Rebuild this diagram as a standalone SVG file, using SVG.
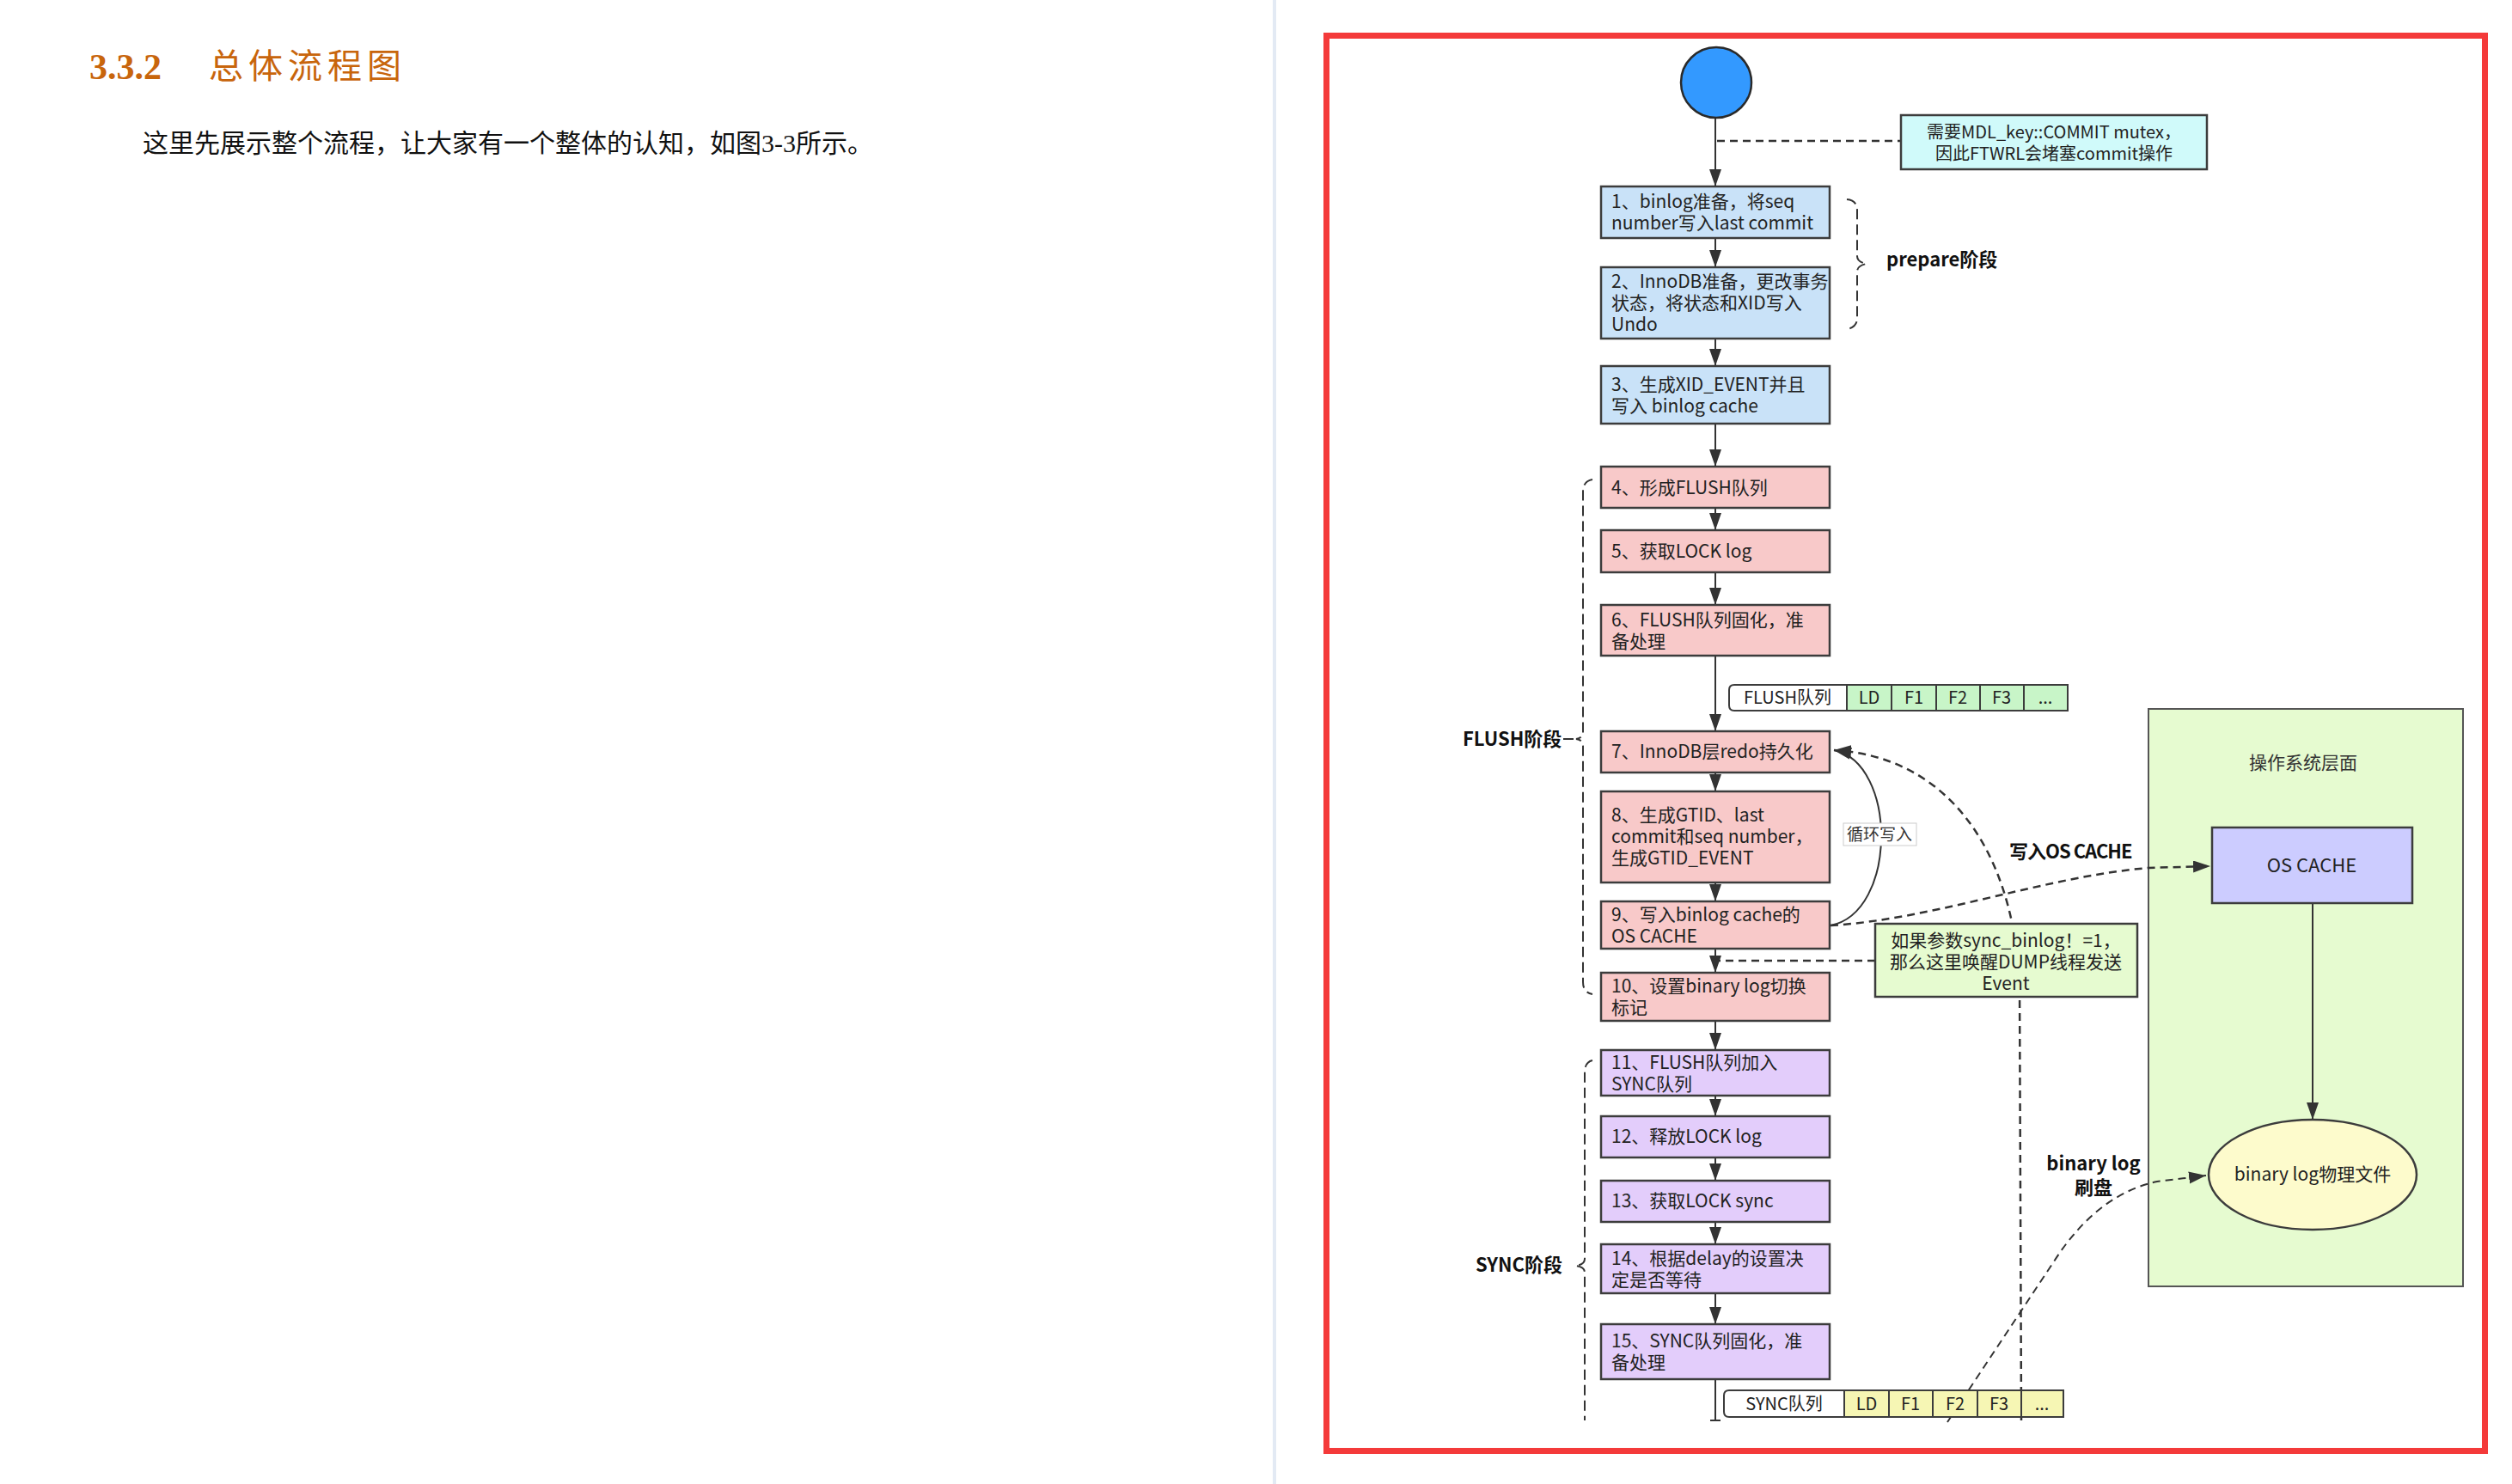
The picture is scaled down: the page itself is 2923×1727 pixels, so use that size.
<svg xmlns="http://www.w3.org/2000/svg" width="2923" height="1727" viewBox="0 0 2923 1727">
<style>
text{font-family:"Noto Sans CJK SC",sans-serif;fill:#222;}
.t{font-size:21px;}
.c{text-anchor:middle;}
.b{font-weight:bold;font-size:22px;fill:#111;}
.box{stroke:#3c3c3c;stroke-width:2.5;}
.blue{fill:#c9e2f8;}
.pink{fill:#f8c9c9;}
.purple{fill:#e3cdfb;}
.flow{stroke:#333;stroke-width:2;fill:none;marker-end:url(#ah);}
.dash{stroke:#333;stroke-width:2.5;fill:none;stroke-dasharray:9 6;}
.brace{stroke:#333;stroke-width:2;fill:none;stroke-dasharray:12 6;}
.cell{stroke:#3c3c3c;stroke-width:2;}
.q{font-size:20px;}
</style>
<defs>
<marker id="ah" markerUnits="userSpaceOnUse" markerWidth="22" markerHeight="16" refX="20" refY="7" orient="auto">
<path d="M0,0 L20,7 L0,14 z" fill="#333"/>
</marker>
</defs>
<rect x="0" y="0" width="2923" height="1727" fill="#ffffff"/>
<rect x="1481" y="0" width="4" height="1727" fill="#e3eaf4"/>
<g id="page-text">
<text x="104" y="92" style="font-family:'Liberation Serif',serif;font-weight:bold;font-size:42px;fill:#c8650c;">3.3.2</text>
<text x="243" y="91" style="font-size:40px;fill:#c8650c;letter-spacing:6px;">总体流程图</text>
<text x="166" y="177" style="font-family:'Liberation Serif','Noto Sans CJK SC',serif;font-size:30px;fill:#111;">这里先展示整个流程，让大家有一个整体的认知，如图3-3所示。</text>
</g>
<rect x="1543.5" y="41.5" width="1348" height="1647" fill="none" stroke="#f43a3a" stroke-width="7"/>
<g id="os-panel">
<rect x="2500" y="825" width="366" height="672" fill="#e6fbd0" stroke="#555" stroke-width="2"/>
<text x="2680" y="895" class="t c" style="fill:#333;">操作系统层面</text>
</g>
<g id="connectors">
<line class="flow" x1="1996" y1="137" x2="1996" y2="217"/>
<line class="flow" x1="1996" y1="277" x2="1996" y2="311"/>
<line class="flow" x1="1996" y1="394" x2="1996" y2="426"/>
<line class="flow" x1="1996" y1="493" x2="1996" y2="543"/>
<line class="flow" x1="1996" y1="591" x2="1996" y2="617"/>
<line class="flow" x1="1996" y1="666" x2="1996" y2="704"/>
<line class="flow" x1="1996" y1="763" x2="1996" y2="851"/>
<line class="flow" x1="1996" y1="899" x2="1996" y2="921"/>
<line class="flow" x1="1996" y1="1027" x2="1996" y2="1049"/>
<line class="flow" x1="1996" y1="1104" x2="1996" y2="1132"/>
<line class="flow" x1="1996" y1="1188" x2="1996" y2="1222"/>
<line class="flow" x1="1996" y1="1275" x2="1996" y2="1299"/>
<line class="flow" x1="1996" y1="1347" x2="1996" y2="1374"/>
<line class="flow" x1="1996" y1="1422" x2="1996" y2="1448"/>
<line class="flow" x1="1996" y1="1505" x2="1996" y2="1541"/>
<line x1="1996" y1="1605" x2="1996" y2="1653" stroke="#333" stroke-width="2"/>
<line x1="1990" y1="1653" x2="2002" y2="1653" stroke="#333" stroke-width="2"/>
<line class="dash" x1="1998" y1="164" x2="2212" y2="164"/>
<line class="dash" x1="2182" y1="1118" x2="1998" y2="1118"/>
<path class="flow" d="M2130,1077 C2208,1062 2208,888 2134,873"/>
<path class="dash" marker-end="url(#ah)" d="M2352,1653 L2350,1140 C2340,980 2260,880 2134,873"/>
<path class="dash" marker-end="url(#ah)" d="M2130,1077 C2250,1070 2380,1020 2500,1010 L2572,1008"/>
<path class="dash" style="stroke-width:2;" marker-end="url(#ah)" d="M2266,1655 L2390,1468 Q2440,1390 2510,1375 L2567,1368"/>
<line x1="2691" y1="1051" x2="2691" y2="1303" class="flow"/>
</g>
<g id="braces">
<path class="brace" d="M2149,232 Q2161,233 2161,245 L2161,298 Q2161,305 2172,307 Q2161,309 2161,316 L2161,370 Q2161,381 2149,383"/>
<path class="brace" d="M1853,558 Q1842,560 1842,572 L1842,852 Q1842,859 1834,860 Q1842,861 1842,868 L1842,1143 Q1842,1155 1853,1157"/>
<line x1="1819" y1="860" x2="1831" y2="860" stroke="#333" stroke-width="2"/>
<path class="brace" d="M1853,1234 Q1844,1236 1844,1248 L1844,1465 Q1844,1472 1833,1473 Q1844,1474 1844,1481 L1844,1653"/>
</g>
<g id="labels">
<text x="2195" y="310" class="b">prepare阶段</text>
<text x="1702" y="868" class="b">FLUSH阶段</text>
<text x="1717" y="1480" class="b">SYNC阶段</text>
<text x="2338" y="999" class="b" style="letter-spacing:-1px;">写入OS CACHE</text>
<text x="2436" y="1362" class="b c"><tspan x="2436">binary log</tspan><tspan x="2436" dy="28">刷盘</tspan></text>
</g>
<g id="loop-label">
<rect x="2145" y="958" width="85" height="26" fill="#ffffff" stroke="#cccccc" stroke-width="1"/>
<text x="2187" y="978" class="c" style="font-size:19px;fill:#333;">循环写入</text>
</g>
<g id="start">
<ellipse cx="1997" cy="96" rx="41" ry="41" fill="#3399ff" stroke="#2a2a2a" stroke-width="2.5"/>
</g>
<g id="note-mdl">
<rect x="2212" y="134" width="356" height="63" fill="#d0fafa" stroke="#3c3c3c" stroke-width="2.5"/>
<text x="2390" y="161" class="c" style="font-size:20px;"><tspan x="2390">需要MDL_key::COMMIT mutex，</tspan><tspan x="2390" dy="25">因此FTWRL会堵塞commit操作</tspan></text>
</g>
<g id="step1"><rect class="box blue" x="1863" y="217" width="266" height="60"/>
<text class="t" x="1875" y="242"><tspan x="1875">1、binlog准备，将seq</tspan><tspan x="1875" dy="25">number写入last  commit</tspan></text></g>
<g id="step2"><rect class="box blue" x="1863" y="311" width="266" height="83"/>
<text class="t" x="1875" y="335"><tspan x="1875">2、InnoDB准备，更改事务</tspan><tspan x="1875" dy="25">状态，将状态和XID写入</tspan><tspan x="1875" dy="25">Undo</tspan></text></g>
<g id="step3"><rect class="box blue" x="1863" y="426" width="266" height="67"/>
<text class="t" x="1875" y="455"><tspan x="1875">3、生成XID_EVENT并且</tspan><tspan x="1875" dy="25">写入 binlog cache</tspan></text></g>
<g id="step4"><rect class="box pink" x="1863" y="543" width="266" height="48"/>
<text class="t" x="1875" y="575">4、形成FLUSH队列</text></g>
<g id="step5"><rect class="box pink" x="1863" y="617" width="266" height="49"/>
<text class="t" x="1875" y="649">5、获取LOCK log</text></g>
<g id="step6"><rect class="box pink" x="1863" y="704" width="266" height="59"/>
<text class="t" x="1875" y="729"><tspan x="1875">6、FLUSH队列固化，准</tspan><tspan x="1875" dy="25">备处理</tspan></text></g>
<g id="flush-queue">
<path class="cell" d="M2149,797 L2018,797 Q2012,797 2012,803 L2012,821 Q2012,827 2018,827 L2149,827 Z" fill="#ffffff"/>
<rect class="cell" x="2149" y="797" width="52" height="30" fill="#c8f5c8"/>
<rect class="cell" x="2201" y="797" width="52" height="30" fill="#c8f5c8"/>
<rect class="cell" x="2253" y="797" width="51" height="30" fill="#c8f5c8"/>
<rect class="cell" x="2304" y="797" width="51" height="30" fill="#c8f5c8"/>
<rect class="cell" x="2355" y="797" width="51" height="30" fill="#c8f5c8"/>
<text class="q c" x="2080" y="819">FLUSH队列</text>
<text class="q c" x="2175" y="819">LD</text>
<text class="q c" x="2227" y="819">F1</text>
<text class="q c" x="2278" y="819">F2</text>
<text class="q c" x="2329" y="819">F3</text>
<text class="q c" x="2380" y="819">...</text>
</g>
<g id="step7"><rect class="box pink" x="1863" y="851" width="266" height="48"/>
<text class="t" x="1875" y="882">7、InnoDB层redo持久化</text></g>
<g id="step8"><rect class="box pink" x="1863" y="921" width="266" height="106"/>
<text class="t" x="1875" y="956"><tspan x="1875">8、生成GTID、last</tspan><tspan x="1875" dy="25">commit和seq number，</tspan><tspan x="1875" dy="25">生成GTID_EVENT</tspan></text></g>
<g id="step9"><rect class="box pink" x="1863" y="1049" width="266" height="55"/>
<text class="t" x="1875" y="1072"><tspan x="1875">9、写入binlog cache的</tspan><tspan x="1875" dy="25">OS  CACHE</tspan></text></g>
<g id="step10"><rect class="box pink" x="1863" y="1132" width="266" height="56"/>
<text class="t" x="1875" y="1155"><tspan x="1875">10、设置binary log切换</tspan><tspan x="1875" dy="25">标记</tspan></text></g>
<g id="note-dump">
<rect x="2182" y="1075" width="305" height="85" fill="#e6fbd0" stroke="#3c3c3c" stroke-width="2.5"/>
<text class="t c" x="2334" y="1102"><tspan x="2334">如果参数sync_binlog！=1，</tspan><tspan x="2334" dy="25">那么这里唤醒DUMP线程发送</tspan><tspan x="2334" dy="25">Event</tspan></text>
</g>
<g id="step11"><rect class="box purple" x="1863" y="1222" width="266" height="53"/>
<text class="t" x="1875" y="1244"><tspan x="1875">11、FLUSH队列加入</tspan><tspan x="1875" dy="25">SYNC队列</tspan></text></g>
<g id="step12"><rect class="box purple" x="1863" y="1299" width="266" height="48"/>
<text class="t" x="1875" y="1330">12、释放LOCK log</text></g>
<g id="step13"><rect class="box purple" x="1863" y="1374" width="266" height="48"/>
<text class="t" x="1875" y="1405">13、获取LOCK sync</text></g>
<g id="step14"><rect class="box purple" x="1863" y="1448" width="266" height="57"/>
<text class="t" x="1875" y="1472"><tspan x="1875">14、根据delay的设置决</tspan><tspan x="1875" dy="25">定是否等待</tspan></text></g>
<g id="step15"><rect class="box purple" x="1863" y="1541" width="266" height="64"/>
<text class="t" x="1875" y="1568"><tspan x="1875">15、SYNC队列固化，准</tspan><tspan x="1875" dy="25">备处理</tspan></text></g>
<g id="sync-queue">
<path class="cell" d="M2146,1618 L2012,1618 Q2006,1618 2006,1624 L2006,1643 Q2006,1649 2012,1649 L2146,1649 Z" fill="#ffffff"/>
<rect class="cell" x="2146" y="1618" width="52" height="31" fill="#f6f6b4"/>
<rect class="cell" x="2198" y="1618" width="51" height="31" fill="#f6f6b4"/>
<rect class="cell" x="2249" y="1618" width="52" height="31" fill="#f6f6b4"/>
<rect class="cell" x="2301" y="1618" width="51" height="31" fill="#f6f6b4"/>
<rect class="cell" x="2352" y="1618" width="49" height="31" fill="#f6f6b4"/>
<text class="q c" x="2076" y="1641">SYNC队列</text>
<text class="q c" x="2172" y="1641">LD</text>
<text class="q c" x="2223" y="1641">F1</text>
<text class="q c" x="2275" y="1641">F2</text>
<text class="q c" x="2326" y="1641">F3</text>
<text class="q c" x="2376" y="1641">...</text>
</g>
<g id="os-cache">
<rect x="2574" y="963" width="233" height="88" fill="#ccccff" stroke="#3c3c3c" stroke-width="2.5"/>
<text class="c" x="2690" y="1015" style="font-size:22px;">OS CACHE</text>
</g>
<g id="binlog-file">
<ellipse cx="2691" cy="1367" rx="121" ry="64" fill="#fdfbcc" stroke="#3c3c3c" stroke-width="2.5"/>
<text class="t c" x="2691" y="1374">binary log物理文件</text>
</g>
</svg>
